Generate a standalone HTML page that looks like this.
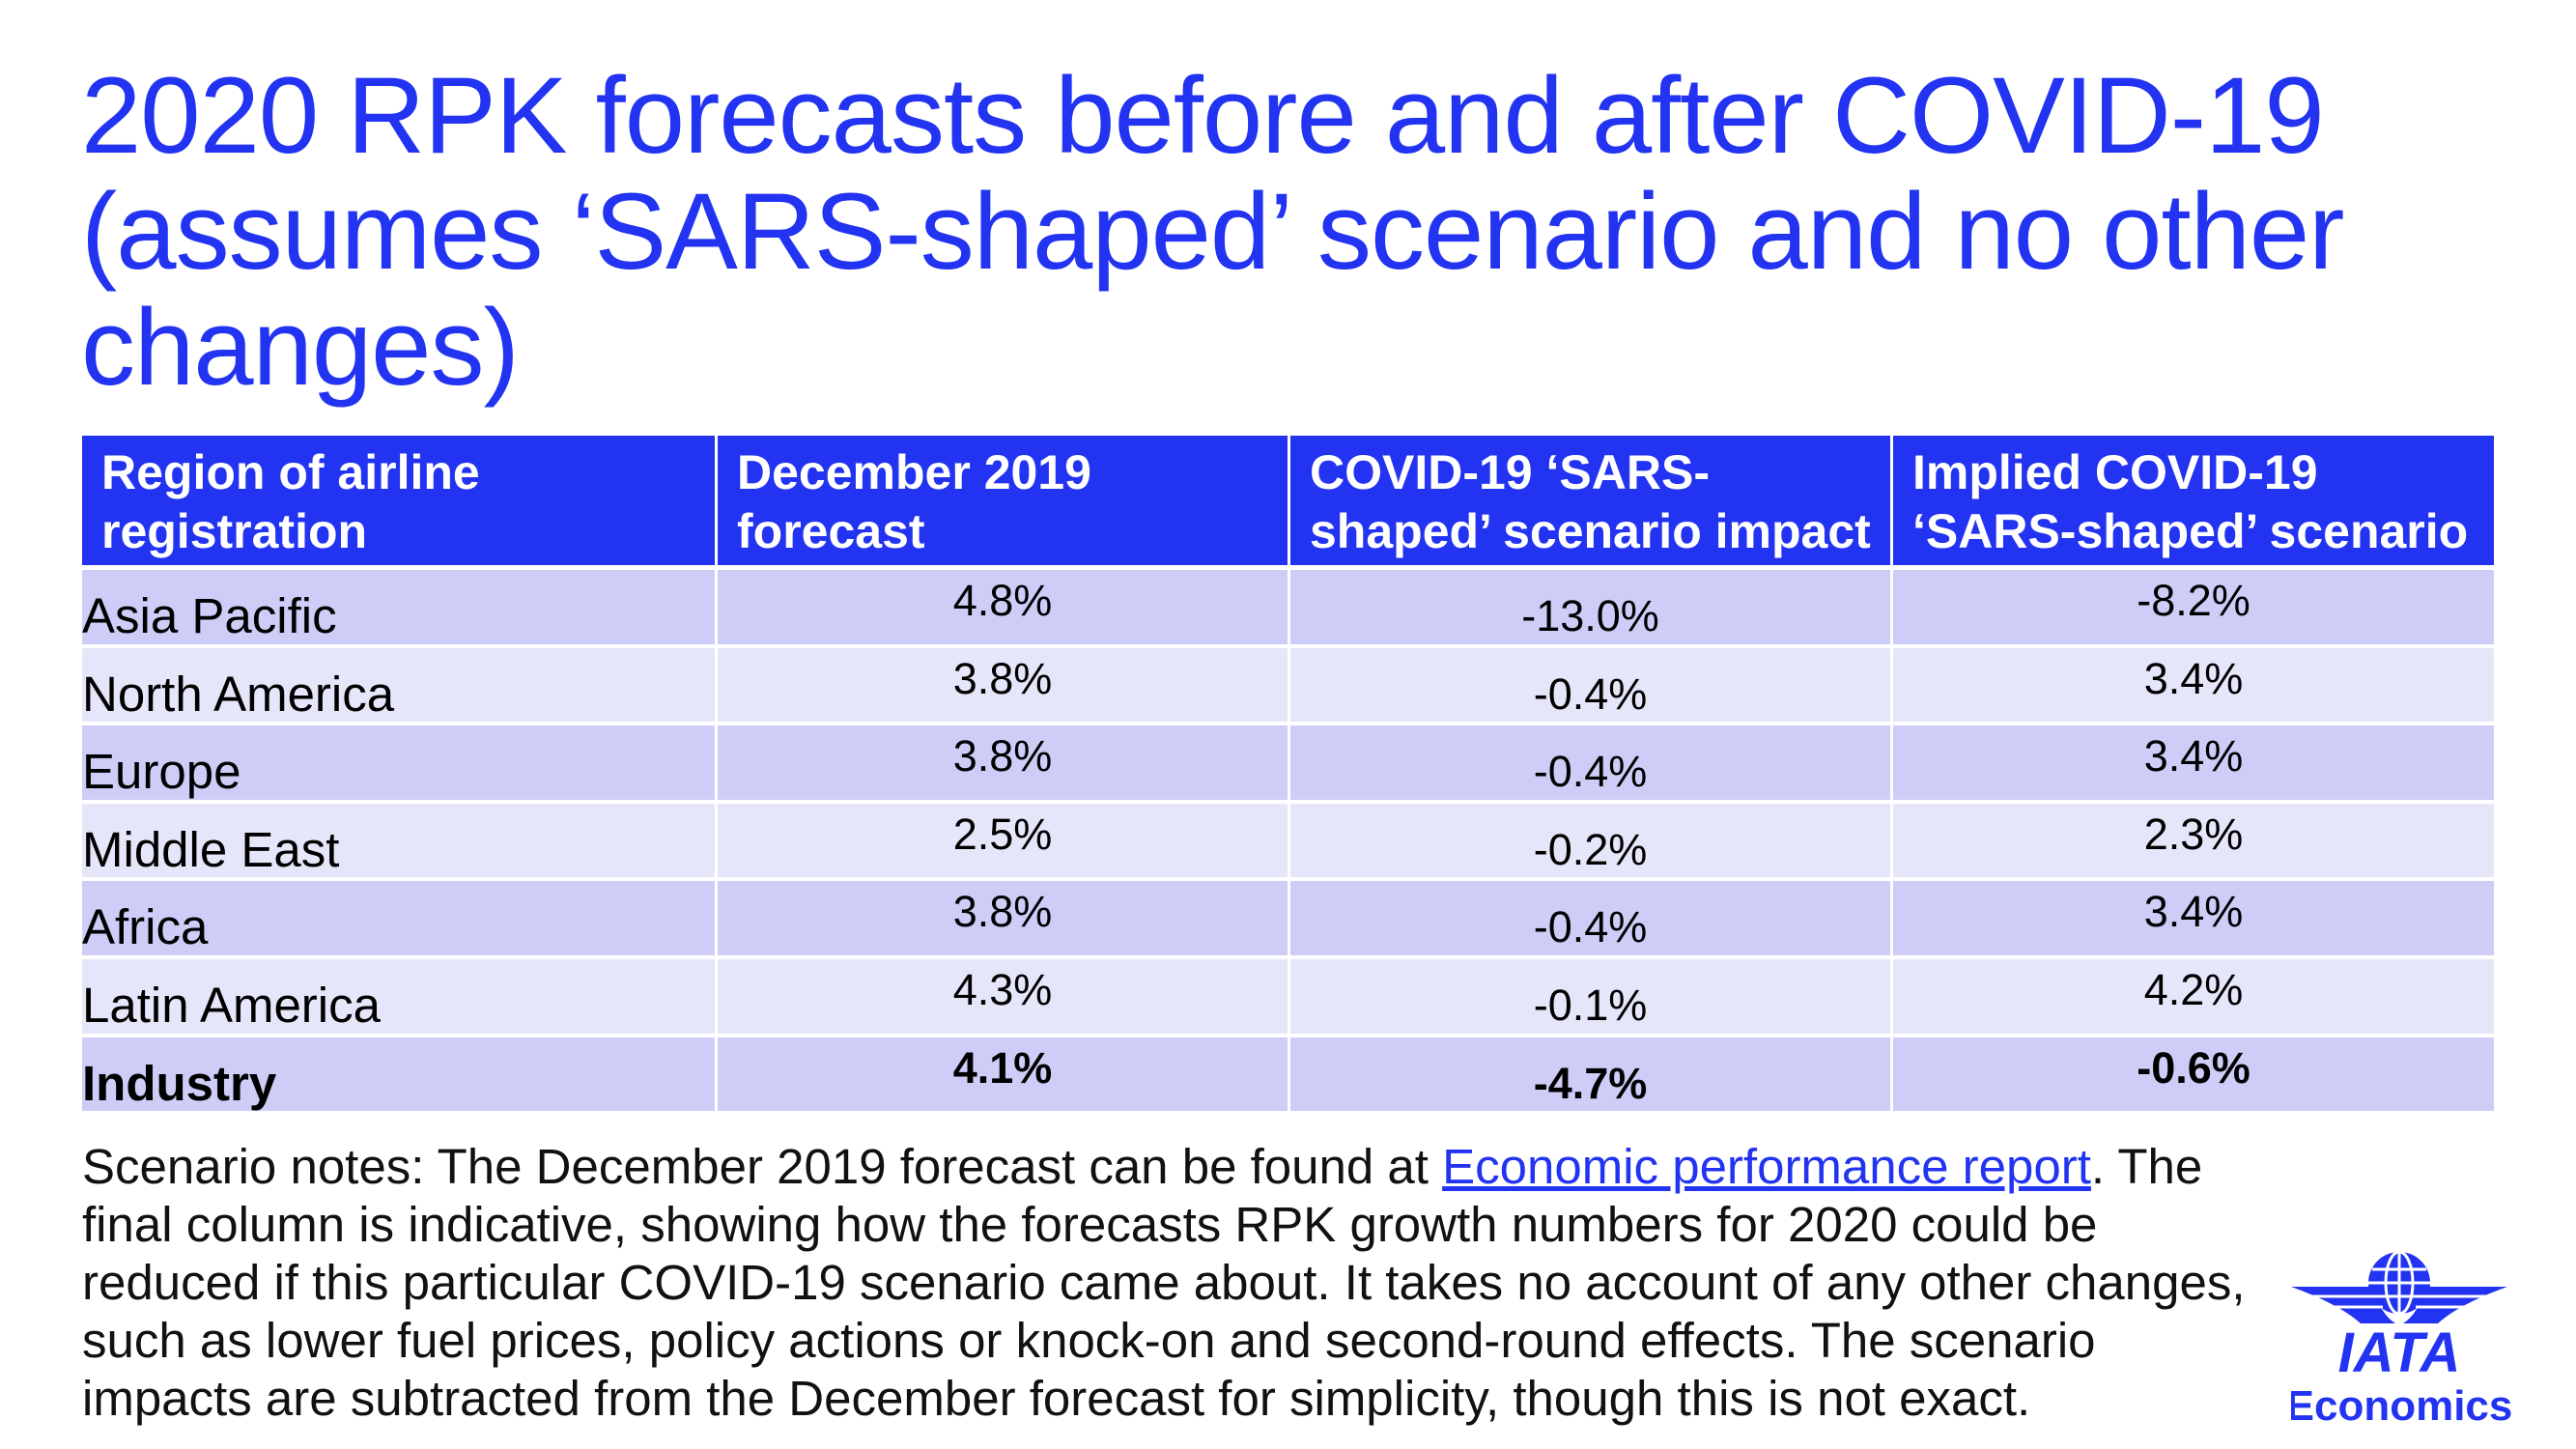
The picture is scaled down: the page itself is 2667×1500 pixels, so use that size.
<!DOCTYPE html>
<html><head><meta charset="utf-8">
<style>
body{margin:0;width:2667px;height:1500px;background:#fff;position:relative;overflow:hidden;font-family:"Liberation Sans",sans-serif;}
#title{position:absolute;left:84px;top:60px;font-size:112px;line-height:120px;color:#2233f2;letter-spacing:-1px;margin:0;font-weight:normal;white-space:nowrap;}
.cell{position:absolute;box-sizing:border-box;}
.hdr{background:#2233f2;color:#fff;font-weight:bold;font-size:50px;line-height:61px;padding:8px 20px;white-space:nowrap;}
.num{text-align:center;font-size:45px;}
.reg{font-size:51px;padding-left:0;}
#notes{position:absolute;left:85px;top:1178px;font-size:51px;line-height:60px;color:#111;white-space:nowrap;}
#notes a{color:#2233f2;text-decoration:underline;}
</style></head><body>
<h1 id="title">2020 RPK forecasts before and after COVID-19<br>(assumes ‘SARS-shaped’ scenario and no other<br>changes)</h1>
<div id="tbl"></div>
<div id="notes">Scenario notes: The December 2019 forecast can be found at <a>Economic performance report</a>. The<br>final column is indicative, showing how the forecasts RPK growth numbers for 2020 could be<br>reduced if this particular COVID-19 scenario came about. It takes no account of any other changes,<br>such as lower fuel prices, policy actions or knock-on and second-round effects. The scenario<br>impacts are subtracted from the December forecast for simplicity, though this is not exact.</div>
<div style="position:absolute;left:2372px;top:1290px;width:240px;height:190px;">
<svg width="240" height="190" viewBox="0 0 240 190">
<g fill="#2233f2">
<circle cx="112" cy="38" r="32"/>
<path d="M0,42 L85,42 Q92,70 108,80 L72,80 Q50,60 0,42Z"/>
<path d="M224,42 L139,42 Q132,70 116,80 L152,80 Q174,60 224,42Z"/>
</g>
<g stroke="#fff" stroke-width="3" fill="none">
<line x1="112" y1="6" x2="112" y2="70"/><line x1="80" y1="38" x2="144" y2="38"/>
<ellipse cx="112" cy="38" rx="14" ry="32"/><line x1="84" y1="24" x2="140" y2="24"/><line x1="84" y1="52" x2="140" y2="52"/>
<line x1="20" y1="52" x2="90" y2="52"/><line x1="40" y1="63" x2="95" y2="63"/>
<line x1="204" y1="52" x2="134" y2="52"/><line x1="184" y1="63" x2="129" y2="63"/>
</g>
<text x="112" y="130" text-anchor="middle" font-family="Liberation Sans" font-weight="bold" font-style="italic" font-size="58" fill="#2233f2">IATA</text>
<text x="112" y="180" text-anchor="middle" font-family="Liberation Sans" font-weight="bold" font-size="44" fill="#2233f2">Economics</text>
</svg></div>
<script>
const headers=["Region of airline<br>registration","December 2019<br>forecast","COVID-19 ‘SARS-<br>shaped’ scenario impact","Implied COVID-19<br>‘SARS-shaped’ scenario"];
const regions=["Asia Pacific","North America","Europe","Middle East","Africa","Latin America","Industry"];
const dec2019=["4.8%","3.8%","3.8%","2.5%","3.8%","4.3%","4.1%"];
const impact=["-13.0%","-0.4%","-0.4%","-0.2%","-0.4%","-0.1%","-4.7%"];
const implied=["-8.2%","3.4%","3.4%","2.3%","3.4%","4.2%","-0.6%"];
const tbl=document.getElementById('tbl');
const colX=[85,740,1333,1957,2582];
const hTop=451,hBot=585,rTop=590,rH=80.6;
function cell(x0,x1,y,h,cls,html){const d=document.createElement('div');d.className='cell '+cls;d.style.left=(x0+(x0>85?3:0))+'px';d.style.width=(x1-x0-(x0>85?3:0))+'px';d.style.top=y+'px';d.style.height=h+'px';d.innerHTML=html;tbl.appendChild(d);return d;}
headers.forEach((t,i)=>{const d=cell(colX[i],colX[i+1],hTop,hBot-hTop,'hdr',t);

});
const cols=[dec2019,impact,implied];
regions.forEach((r,j)=>{const y=rTop+j*rH;const bg=j%2==0?'#cdcdf8':'#e6e6fa';const bold=j==6?'font-weight:bold;':'';
const d=cell(colX[0],colX[1],y,rH-4,'reg','');d.style.background=bg;d.innerHTML='<div style="padding-top:18px;'+bold+'">'+r+'</div>';


cols.forEach((c,k)=>{const e=cell(colX[k+1],colX[k+2],y,rH-4,'num','');e.style.background=bg;const pt=k==1?22:6;e.innerHTML='<div style="padding-top:'+pt+'px;'+bold+'">'+c[j]+'</div>';

});});
</script>
</body></html>
